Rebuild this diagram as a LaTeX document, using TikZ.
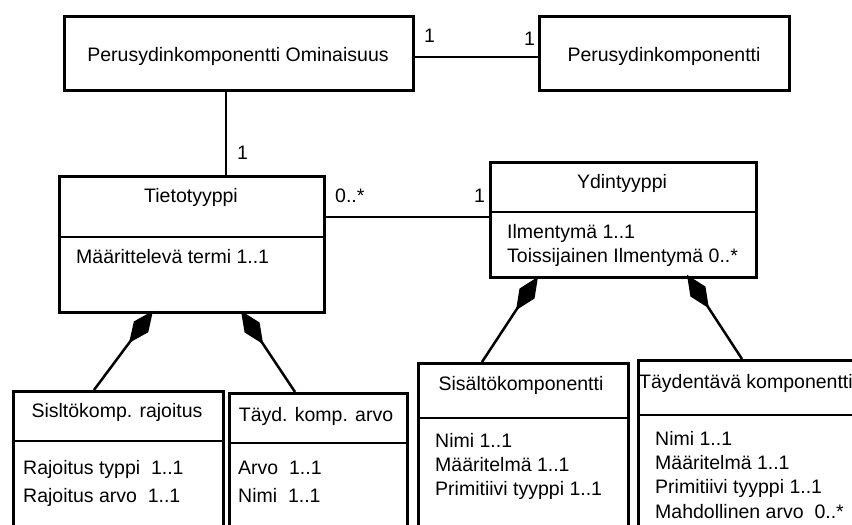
\documentclass[tikz,border=0pt]{standalone}
\usepackage{fontspec}
\setmainfont{Liberation Sans}
\usetikzlibrary{arrows.meta,calc}

\tikzset{
  umlbox/.style={draw, line width=2.8pt, rectangle, inner sep=0pt, anchor=north west},
  rule/.style={line width=2.8pt},
  conn/.style={line width=2.8pt},
  comp/.style={line width=2.5pt, {Diamond[length=40pt,width=18pt]}-},
  txt/.style={inner sep=0pt, anchor=base, font=\fontsize{19.5}{24}\selectfont},
  ltxt/.style={txt, anchor=base west},
}

\begin{document}
\begin{tikzpicture}[x=1pt, y=-1pt]
\clip (0,0) rectangle (852,525);
\fill[white] (0,0) rectangle (852,525);

% class boxes
\node[umlbox, minimum width=349pt, minimum height=74pt] (pom) at (63,15) {};
\node[umlbox, minimum width=250pt, minimum height=74pt] (pyk) at (538,15) {};
\node[umlbox, minimum width=265pt, minimum height=136pt] (tt) at (58,175) {};
\node[umlbox, minimum width=266pt, minimum height=115pt] (yt) at (489,161) {};
\node[umlbox, minimum width=210pt, minimum height=160pt] (skr) at (12,390) {};
\node[umlbox, minimum width=178pt, minimum height=160pt] (tka) at (228,392) {};
\node[umlbox, minimum width=210pt, minimum height=190pt] (sk) at (417,362) {};
\node[umlbox, minimum width=260pt, minimum height=190pt] (tk) at (637,359) {};

% compartment dividers
\draw[rule] ($(tt.north west)+(0,62)$) -- ($(tt.north east)+(0,62)$);
\draw[rule] ($(yt.north west)+(0,51)$) -- ($(yt.north east)+(0,51)$);
\draw[rule] ($(skr.north west)+(0,51)$) -- ($(skr.north east)+(0,51)$);
\draw[rule] ($(tka.north west)+(0,51)$) -- ($(tka.north east)+(0,51)$);
\draw[rule] ($(sk.north west)+(0,56)$) -- ($(sk.north east)+(0,56)$);
\draw[rule] ($(tk.north west)+(0,56)$) -- ($(tk.north east)+(0,56)$);

% titles
\node[txt] at (238,61) {Perusydinkomponentti Ominaisuus};
\node[txt] at (664,61) {Perusydinkomponentti};
\node[txt] at (191,202) {Tietotyyppi};
\node[txt] at (622,188) {Ydintyyppi};
\node[txt] at (117,417) {Sisltökomp. rajoitus};
\node[txt] at (316,421) {Täyd. komp. arvo};
\node[txt] at (521,390) {Sisältökomponentti};
\node[ltxt] at (639,388) {Täydentävä komponentti};

% attributes
\node[ltxt] at (76,263) {Määrittelevä termi 1..1};
\node[ltxt] at (507,238) {Ilmentymä 1..1};
\node[ltxt] at (507,262) {Toissijainen Ilmentymä 0..*};
\node[ltxt] at (23,474) {Rajoitus typpi\ \ 1..1};
\node[ltxt] at (23,502) {Rajoitus arvo\ \ 1..1};
\node[ltxt] at (238,474) {Arvo\ \ 1..1};
\node[ltxt] at (238,502) {Nimi\ \ 1..1};
\node[ltxt] at (435,447) {Nimi 1..1};
\node[ltxt] at (435,471) {Määritelmä 1..1};
\node[ltxt] at (435,495) {Primitiivi tyyppi 1..1};
\node[ltxt] at (655,445) {Nimi 1..1};
\node[ltxt] at (655,469) {Määritelmä 1..1};
\node[ltxt] at (655,493) {Primitiivi tyyppi 1..1};
\node[ltxt] at (655,518) {Mahdollinen arvo\ \ 0..*};

% associations
\draw[conn] ($(pom.north east)+(0,42)$) -- ($(pyk.north west)+(0,42)$);
\draw[conn] ($(pom.south west)+(163,0)$) -- ($(tt.north west)+(168,0)$);
\draw[conn] ($(tt.north east)+(0,42)$) -- ($(yt.north west)+(0,56)$);

% multiplicities
\node[ltxt] at (424,42) {1};
\node[ltxt] at (524,45) {1};
\node[ltxt] at (237,159) {1};
\node[ltxt] at (335,202) {0..*};
\node[ltxt] at (474,202) {1};

% compositions
\draw[comp] ($(tt.south west)+(95,-3)$) -- ($(skr.north west)+(82,0)$);
\draw[comp] ($(tt.south west)+(183,-3)$) -- ($(tka.north west)+(67,0)$);
\draw[comp] ($(yt.south west)+(49,-2)$) -- ($(sk.north west)+(65,0)$);
\draw[comp] ($(yt.south west)+(198,-4)$) -- ($(tk.north west)+(105,0)$);
\end{tikzpicture}
\end{document}
